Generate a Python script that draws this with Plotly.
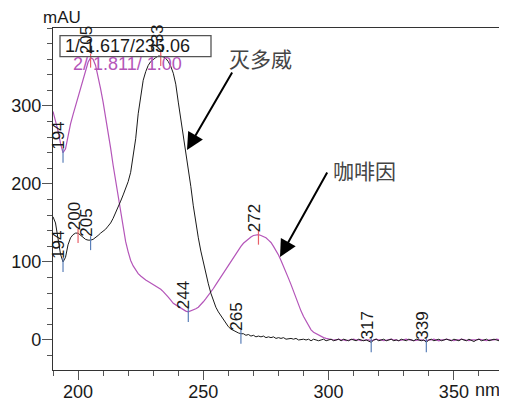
import plotly.graph_objects as go

# ---------------- data ----------------
wavelength = list(range(190, 371))  # nm, 1 nm step

methomyl = [
    158, 150, 130, 110, 100, 106, 122, 131, 135, 137,   # 190-199
    137, 134, 131, 129, 128, 128, 129, 131, 134, 137,   # 200-209
    139, 142, 146, 150, 156, 163, 169, 178, 186, 195,   # 210-219
    203, 215, 234, 258, 290, 315, 333, 344, 352, 357,   # 220-229
    360, 362, 364, 364, 363, 361, 357, 351, 342, 328,   # 230-239
    305, 284, 264, 245, 222, 197, 172, 150, 131, 114,   # 240-249
    99, 86, 72, 60, 50, 42, 36, 31, 26, 21,             # 250-259
    17, 14, 12, 10, 9, 8, 8, 6, 7, 5,                   # 260-269
    6, 4, 5, 4, 5, 3, 4, 3, 4, 2,                       # 270-279
    3, 2, 3, 1, 2, 2, 1, 2, 0, 1,                       # 280-289
    1, 0, 1, -1, 1, 0, -1, 0, 1, -1,                    # 290-299
    0, 1, -1, 0, 1, -1, 1, 0, -1, 1,                    # 300-309
    0, -1, 1, 0, -1, 0, -1, -3, 0, 1,                   # 310-319
    -1, 0, 1, -1, 0, 1, -1, 0, -1, 1,                   # 320-329
    0, -1, 1, 0, -1, 1, 0, -1, 0, -3,                   # 330-339
    0, 1, -1, 0, 1, -1, 0, 1, 0, -1,                    # 340-349
    1, 0, -1, 1, 0, -1, 1, 0, -2, 0,                    # 350-359
    1, -1, 0, 1, -1, 0, 1, 0, -1, 1,                    # 360-369
    0,                                                  # 370
]

caffeine = [
    293, 282, 268, 252, 240, 245, 262, 277, 289, 300,   # 190-199
    312, 322, 334, 346, 356, 362, 360, 352, 338, 322,   # 200-209
    305, 287, 266, 246, 224, 204, 181, 160, 141, 126,   # 210-219
    113, 102, 95, 89, 85, 82, 79, 77, 75, 73,           # 220-229
    71, 70, 68, 65, 62, 59, 55, 51, 47, 45,             # 230-239
    43, 40, 38, 37, 36, 37, 38, 40, 42, 45,             # 240-249
    49, 53, 57, 61, 66, 71, 76, 81, 86, 90,             # 250-259
    95, 100, 106, 111, 115, 120, 124, 127, 130, 132,    # 260-269
    134, 135, 135, 134, 133, 131, 128, 125, 120, 115,   # 270-279
    109, 102, 95, 87, 79, 71, 62, 53, 45, 37,           # 280-289
    30, 24, 18, 13, 10, 8, 6, 4, 3, 2,                  # 290-299
    1, 1, 0, 0, 1, 0, 0, -1, 0, 0,                      # 300-309
    1, 0, 0, -1, 0, 0, 0, -1, 0, 1,                     # 310-319
    0, 0, -1, 0, 0, 1, 0, 0, -1, 0,                     # 320-329
    0, 1, 0, 0, -1, 0, 0, 0, -1, -1,                    # 330-339
    0, 0, 1, 0, -1, 0, 0, 1, 0, 0,                      # 340-349
    -1, 0, 0, 1, 0, 0, -1, 0, 0, 0,                     # 350-359
    1, 0, 0, -1, 0, 0, 0, 1, 0, 0,                      # 360-369
    0,                                                  # 370
]

# peak / valley markers
methomyl_peaks = [194, 200, 205, 233, 265, 317, 339]
methomyl_kinds = ["min", "max", "min", "max", "min", "min", "min"]
caffeine_peaks = [194, 205, 244, 272]
caffeine_kinds = ["min", "max", "min", "max"]

x_ticks = [200, 250, 300, 350]
x_ticklabels = ["200", "250", "300", "350"]
y_ticks = [0, 100, 200, 300]
y_ticklabels = ["0", "100", "200", "300"]

legend_line1 = "1/ 1.617/235.06"
legend_line2 = "2/ 1.811/ 1.00"
name_methomyl = "灭多威"
name_caffeine = "咖啡因"
y_unit = "mAU"
x_unit = "nm"

# ---------------- layout geometry ----------------
# the page places the figure 8 px from the top-left corner of the window
OFF = 8
W, H = 507 - OFF, 401 - OFF
PL, PR, PT, PB = 53, 504, 28, 370          # plot area in window pixels
ML, MR, MT, MB = PL - OFF, OFF + W - PR, PT - OFF, OFF + H - PB
XR = [190, 370]
YR = [-38.5, 400]
PW = PR - PL
PH = PB - PT
px_per_unit = PH / (YR[1] - YR[0])

def xp(px):
    return (px - PL) / PW

def yp(py):
    return (PB - py) / PH

BLACK = "#1a1a1a"
PURPLE = "#b455b9"
RED = "#e8606a"
BLUE = "#5a7fb8"
FONT = "Liberation Sans, Arial, sans-serif"

fig = go.Figure()
fig.add_trace(go.Scatter(x=wavelength, y=caffeine, mode="lines",
                         line=dict(color=PURPLE, width=1.2), hoverinfo="skip"))
fig.add_trace(go.Scatter(x=wavelength, y=methomyl, mode="lines",
                         line=dict(color=BLACK, width=1), hoverinfo="skip"))

annotations = []
annotations.append(dict(xref="paper", yref="paper", x=xp(63), y=yp(46),
                        xanchor="left", yanchor="middle", showarrow=False,
                        text=legend_line1, font=dict(family=FONT, size=18, color=BLACK)))
annotations.append(dict(xref="paper", yref="paper", x=xp(71), y=yp(64),
                        xanchor="left", yanchor="middle", showarrow=False,
                        text=legend_line2, font=dict(family=FONT, size=18, color=PURPLE)))

tick_offset = 3 / px_per_unit
for series, peaks, kinds in [(caffeine, caffeine_peaks, caffeine_kinds),
                             (methomyl, methomyl_peaks, methomyl_kinds)]:
    for kind in ["max", "min"]:
        xs = [p for p, k in zip(peaks, kinds) if k == kind]
        ys = [series[wavelength.index(p)] - tick_offset for p in xs]
        fig.add_trace(go.Scatter(
            x=xs, y=ys, mode="markers", hoverinfo="skip",
            marker=dict(symbol="line-ns", size=10,
                        line=dict(width=1.2, color=RED if kind == "max" else BLUE))))
    for p in peaks:
        v = series[wavelength.index(p)]
        annotations.append(dict(x=p, y=v, xref="x", yref="y", text=str(p),
                                textangle=-90, xanchor="center", yanchor="bottom",
                                xshift=-4, yshift=1, showarrow=False,
                                font=dict(family=FONT, size=17, color=BLACK)))

annotations.append(dict(xref="paper", yref="paper", x=xp(260), y=yp(58),
                        text=name_methomyl, showarrow=False, xanchor="center", yanchor="middle",
                        font=dict(family="Noto Sans CJK SC", size=21, color="#444444")))
annotations.append(dict(xref="paper", yref="paper", x=xp(364), y=yp(170),
                        text=name_caffeine, showarrow=False, xanchor="center", yanchor="middle",
                        font=dict(family="Noto Sans CJK SC", size=21, color="#444444")))
annotations.append(dict(xref="paper", yref="paper", x=xp(187), y=yp(150), text="",
                        showarrow=True, ax=46, ay=-79, arrowhead=2, arrowsize=1.7,
                        arrowwidth=2, arrowcolor="#000000"))
annotations.append(dict(xref="paper", yref="paper", x=xp(280), y=yp(257), text="",
                        showarrow=True, ax=48, ay=-86, arrowhead=2, arrowsize=1.7,
                        arrowwidth=2, arrowcolor="#000000"))

# unit labels: placed at the axis corners and shifted in pixels
annotations.append(dict(xref="paper", yref="paper", x=0, y=1, text=y_unit,
                        showarrow=False, xanchor="left", yanchor="bottom",
                        xshift=-11, yshift=0, borderpad=0,
                        font=dict(family=FONT, size=17, color=BLACK)))
annotations.append(dict(xref="paper", yref="paper", x=1, y=0, text=x_unit,
                        showarrow=False, xanchor="right", yanchor="top",
                        xshift=-3, yshift=-9, borderpad=0,
                        font=dict(family=FONT, size=18, color=BLACK)))

shapes = [dict(type="rect", xref="paper", yref="paper",
               x0=xp(60), x1=xp(211), y0=yp(56.7), y1=yp(35.7),
               line=dict(color="#555555", width=1.3), fillcolor="rgba(0,0,0,0)")]

fig.update_layout(
    width=W, height=H, margin=dict(l=ML, r=MR, t=MT, b=MB, autoexpand=False),
    paper_bgcolor="white", plot_bgcolor="white", showlegend=False,
    annotations=annotations, shapes=shapes,
    font=dict(family=FONT, size=18, color=BLACK),
    xaxis=dict(range=XR, tickvals=x_ticks, ticktext=x_ticklabels, automargin=False,
               showgrid=False, zeroline=False, showline=True, mirror=True,
               linecolor="#333333", linewidth=1.2, ticks="outside", ticklen=9,
               tickcolor="#555555", tickwidth=1, ticklabelstandoff=-4,
               minor=dict(dtick=10, tick0=190, ticks="outside", ticklen=5,
                          tickcolor="#555555", showgrid=False),
               tickfont=dict(family=FONT, size=18, color=BLACK)),
    yaxis=dict(range=YR, tickvals=y_ticks, ticktext=y_ticklabels, automargin=False,
               showgrid=False, zeroline=False, showline=True, mirror=True,
               linecolor="#333333", linewidth=1.2, ticks="outside", ticklen=10,
               tickcolor="#555555", tickwidth=1, ticklabelstandoff=-3,
               minor=dict(dtick=20, tick0=0, ticks="outside", ticklen=5,
                          tickcolor="#555555", showgrid=False),
               tickfont=dict(family=FONT, size=18, color=BLACK)),
)

fig.write_html("out.html")
